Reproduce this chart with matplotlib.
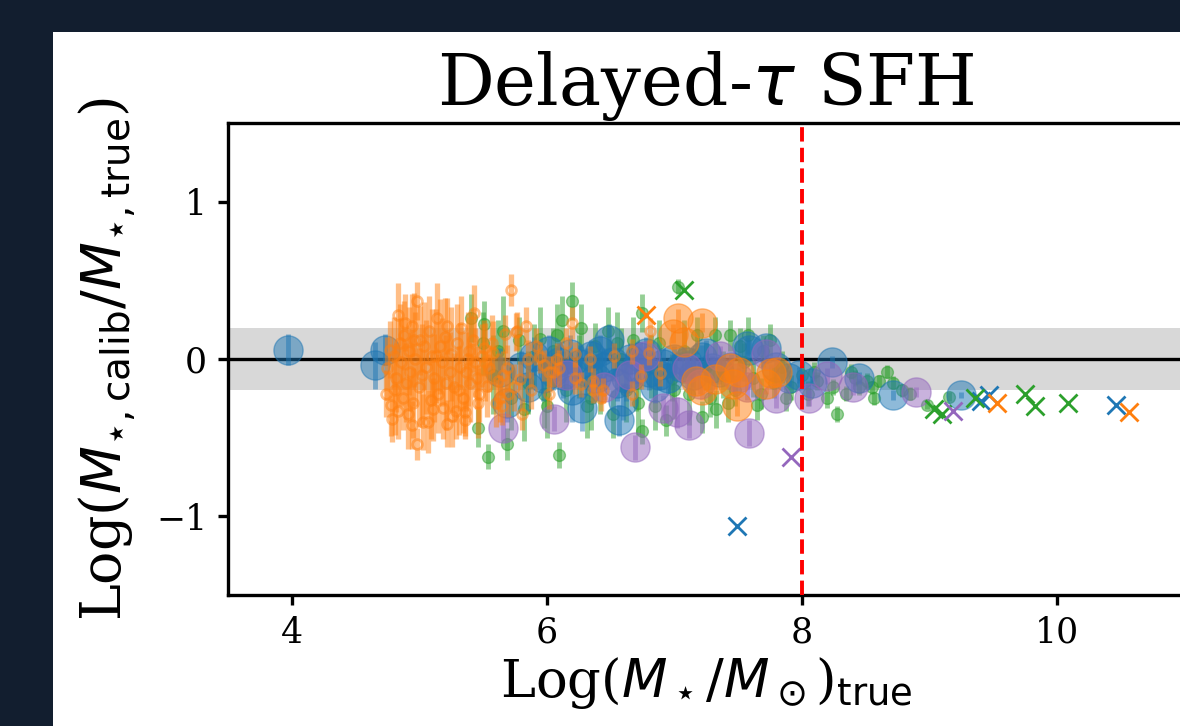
import matplotlib
matplotlib.use("Agg")
import matplotlib.pyplot as plt
from matplotlib.patches import Rectangle

plt.rcParams['font.family'] = 'serif'

# small hollow orange points
ox = [4.74, 4.75, 4.77, 4.78, 4.79, 4.80, 4.82, 4.83, 4.83, 4.85, 4.86, 4.87, 4.88, 4.89, 4.90,
      4.92, 4.93, 4.94, 4.94, 4.95, 4.97, 4.98, 4.98, 5.00, 5.01, 5.03, 5.04, 5.05, 5.07, 5.08,
      5.10, 5.11, 5.12, 5.14, 5.15, 5.16, 5.18, 5.19, 5.20, 5.22, 5.22, 5.24, 5.25, 5.27, 5.29,
      5.30, 5.32, 5.33, 5.34, 5.36, 5.36, 5.37, 5.39, 5.40, 5.42, 5.43, 5.44, 5.45, 5.47, 5.49,
      5.51, 5.53, 5.55, 5.57, 5.60, 5.63, 5.65, 5.66, 5.67, 5.69, 5.72, 5.74, 5.76, 5.77, 5.79,
      5.81, 5.84, 5.85, 5.88, 5.92, 5.95, 5.98, 6.02, 6.02, 6.05, 6.08, 6.10, 6.15, 6.20, 6.22,
      6.22, 6.27, 6.34, 6.36, 6.36, 6.43, 6.44, 6.53, 6.67, 6.67, 6.74, 6.80, 6.81, 6.89,
      4.81, 4.91, 4.96, 5.02, 5.09, 5.13, 5.21, 5.26, 5.31, 5.38, 5.46, 5.52, 5.58, 5.62, 5.70]
oy = [-0.22, -0.06, 0.06, -0.29, -0.38, 0.02, -0.12, 0.28, -0.33, 0.10, -0.02, -0.25, 0.15, 0.23, -0.15,
      0.05, -0.08, 0.21, -0.42, -0.28, 0.00, 0.37, -0.54, -0.18, 0.12, -0.40, 0.08, -0.05, -0.40, 0.18,
      0.02, -0.32, -0.12, 0.26, -0.22, 0.08, -0.02, -0.31, 0.14, 0.21, -0.41, -0.08, 0.03, -0.18, -0.33,
      0.10, -0.05, 0.20, -0.25, -0.34, -0.39, -0.08, 0.05, -0.15, 0.12, 0.29, -0.02, -0.12, -0.22, 0.02,
      0.07, -0.17, -0.06, 0.10, -0.28, -0.25, -0.30, -0.10, 0.16, -0.06, 0.44, -0.18, 0.17, 0.18, -0.13,
      -0.35, 0.21, 0.00, -0.20, 0.08, 0.01, -0.04, -0.08, -0.22, -0.08, 0.00, -0.06, 0.10, 0.23, 0.03,
      -0.12, -0.16, 0.00, -0.14, -0.20, -0.25, -0.20, 0.02, 0.05, -0.22, -0.11, 0.04, 0.18, -0.09,
      -0.20, -0.35, 0.12, -0.10, -0.26, 0.02, -0.15, -0.36, -0.20, 0.00, -0.28, -0.02, 0.04, -0.14, -0.22]
oe = [0.15, 0.20, 0.18, 0.20, 0.15, 0.25, 0.22, 0.20, 0.18, 0.25, 0.28, 0.20, 0.22, 0.18, 0.25,
      0.28, 0.25, 0.20, 0.15, 0.22, 0.30, 0.12, 0.10, 0.25, 0.22, 0.18, 0.28, 0.30, 0.20, 0.22,
      0.30, 0.20, 0.28, 0.22, 0.25, 0.30, 0.28, 0.20, 0.25, 0.18, 0.15, 0.25, 0.30, 0.22, 0.18,
      0.25, 0.28, 0.20, 0.22, 0.15, 0.12, 0.25, 0.22, 0.25, 0.20, 0.18, 0.22, 0.20, 0.18, 0.20,
      0.18, 0.20, 0.15, 0.18, 0.15, 0.15, 0.12, 0.15, 0.12, 0.15, 0.10, 0.15, 0.12, 0.12, 0.12,
      0.10, 0.12, 0.12, 0.12, 0.12, 0.10, 0.10, 0.10, 0.10, 0.10, 0.10, 0.12, 0.10, 0.10, 0.08,
      0.10, 0.08, 0.08, 0.08, 0.08, 0.08, 0.08, 0.08, 0.08, 0.08, 0.08, 0.08, 0.08, 0.08,
      0.28, 0.22, 0.30, 0.32, 0.25, 0.30, 0.30, 0.20, 0.28, 0.30, 0.22, 0.25, 0.20, 0.18, 0.15]

# small filled green points
gx = [5.41, 5.46, 5.50, 5.51, 5.54, 5.58, 5.62, 5.69, 5.72, 5.78, 5.85, 5.90, 5.95, 6.00, 6.05,
      6.08, 6.10, 6.15, 6.20, 6.25, 6.27, 6.32, 6.38, 6.42, 6.48, 6.52, 6.58, 6.62, 6.68, 6.72,
      6.75, 6.75, 6.82, 6.88, 6.94, 6.98, 7.03, 7.08, 7.12, 7.18, 7.22, 7.25, 7.32, 7.33, 7.38,
      7.44, 7.48, 7.52, 7.58, 7.62, 7.65, 7.70, 7.78, 7.85, 7.92, 8.00, 8.05, 8.12, 8.20, 8.28,
      8.35, 8.39, 8.45, 8.51, 8.57, 8.61, 8.67, 8.79, 8.98, 9.16,
      5.66, 5.82, 5.98, 6.12, 6.35, 6.55, 6.70, 6.85, 7.00, 7.15, 7.28, 7.42, 7.55, 7.68, 7.75,
      7.88, 8.10, 8.25, 8.42, 8.55, 8.72, 8.85]
gy = [0.26, -0.44, 0.10, 0.22, -0.62, -0.10, 0.05, -0.54, -0.25, 0.12, -0.15, 0.02, 0.13, -0.30, 0.05,
      0.15, -0.61, -0.20, 0.37, -0.05, 0.20, -0.30, 0.08, -0.15, 0.18, -0.35, 0.00, -0.20, 0.12, -0.28,
      0.29, -0.46, -0.05, 0.10, -0.39, -0.12, 0.46, 0.05, -0.22, 0.15, -0.37, -0.05, 0.15, -0.32, -0.10,
      0.15, -0.20, 0.08, 0.15, -0.12, -0.29, 0.05, -0.15, -0.05, -0.18, -0.10, -0.22, -0.14, -0.25, -0.35,
      -0.22, -0.08, -0.18, -0.14, -0.25, -0.14, -0.08, -0.20, -0.29, -0.24,
      0.18, -0.32, -0.22, 0.25, -0.25, 0.10, -0.15, -0.30, -0.20, -0.08, -0.25, -0.28, -0.02, -0.22, 0.12,
      -0.25, -0.08, -0.18, -0.12, -0.18, -0.15, -0.22]
ge = [0.15, 0.12, 0.20, 0.15, 0.08, 0.25, 0.20, 0.10, 0.20, 0.15, 0.20, 0.20, 0.20, 0.20, 0.15,
      0.20, 0.08, 0.20, 0.12, 0.20, 0.15, 0.20, 0.15, 0.20, 0.15, 0.15, 0.20, 0.20, 0.15, 0.20,
      0.12, 0.08, 0.20, 0.15, 0.10, 0.15, 0.05, 0.20, 0.20, 0.12, 0.10, 0.15, 0.12, 0.12, 0.15,
      0.10, 0.10, 0.12, 0.12, 0.12, 0.10, 0.10, 0.10, 0.10, 0.08, 0.08, 0.08, 0.06, 0.06, 0.05,
      0.05, 0.05, 0.05, 0.05, 0.04, 0.04, 0.04, 0.04, 0.03, 0.03,
      0.22, 0.20, 0.22, 0.15, 0.20, 0.20, 0.18, 0.15, 0.18, 0.15, 0.12, 0.12, 0.12, 0.10, 0.10,
      0.08, 0.06, 0.05, 0.05, 0.04, 0.04, 0.04]

# large blue points
bx = [3.97, 4.65, 4.73, 5.63, 5.69, 5.80, 5.90, 5.97, 6.02, 6.10, 6.13, 6.20, 6.26, 6.28, 6.35,
      6.39, 6.45, 6.49, 6.55, 6.57, 6.60, 6.65, 6.73, 6.80, 6.85, 6.91, 6.95, 7.05, 7.15, 7.22,
      7.25, 7.35, 7.45, 7.57, 7.59, 7.72, 7.80, 7.90, 7.98, 8.08, 8.24, 8.45, 8.72, 9.25,
      5.85, 6.05, 6.18, 6.32, 6.42, 6.52, 6.62, 6.70, 6.78, 6.88, 7.00, 7.10, 7.30]
by = [0.06, -0.04, 0.06, -0.08, -0.28, -0.05, 0.02, -0.12, 0.05, -0.02, -0.10, -0.20, -0.03, -0.31, 0.02,
      -0.12, -0.05, 0.12, -0.15, -0.39, -0.27, 0.00, 0.01, -0.08, -0.18, -0.03, -0.12, -0.05, -0.10, 0.01,
      0.04, -0.08, -0.05, 0.08, 0.06, 0.07, -0.05, -0.12, -0.10, -0.15, -0.02, -0.12, -0.23, -0.23,
      -0.18, -0.08, 0.03, -0.08, 0.05, -0.02, -0.12, -0.06, 0.04, -0.10, 0.00, -0.02, -0.06]
be = [0.10, 0.15, 0.10, 0.15, 0.12, 0.10, 0.12, 0.15, 0.10, 0.12, 0.15, 0.20, 0.12, 0.15, 0.10,
      0.15, 0.12, 0.10, 0.12, 0.10, 0.12, 0.10, 0.10, 0.12, 0.10, 0.10, 0.10, 0.08, 0.08, 0.08,
      0.08, 0.08, 0.08, 0.06, 0.06, 0.06, 0.06, 0.05, 0.05, 0.04, 0.04, 0.04, 0.03, 0.02,
      0.15, 0.12, 0.12, 0.15, 0.10, 0.12, 0.15, 0.10, 0.10, 0.10, 0.08, 0.08, 0.08]

# large purple points
px = [5.66, 6.06, 6.16, 6.45, 6.65, 6.69, 6.77, 6.91, 7.02, 7.10, 7.12, 7.20, 7.36, 7.50, 7.57,
      7.59, 7.72, 7.80, 8.06, 8.20, 8.40, 8.90]
py = [-0.44, -0.38, -0.10, -0.18, -0.10, -0.56, 0.02, -0.31, -0.34, -0.06, -0.42, -0.16, 0.02, -0.12, -0.18,
      -0.47, 0.03, -0.25, -0.25, -0.11, -0.18, -0.21]
pe = [0.08, 0.08, 0.08, 0.08, 0.08, 0.08, 0.06, 0.08, 0.10, 0.06, 0.08, 0.06, 0.06, 0.06, 0.08,
      0.08, 0.06, 0.06, 0.05, 0.05, 0.05, 0.03]

# large orange points
lx = [6.99, 7.03, 7.08, 7.17, 7.22, 7.22, 7.32, 7.44, 7.46, 7.49, 7.51, 7.72, 7.76, 7.81]
ly = [0.16, 0.26, 0.11, -0.14, 0.23, -0.20, -0.13, -0.06, -0.16, -0.30, -0.08, -0.16, -0.09, -0.08]
le = [0.06, 0.06, 0.06, 0.06, 0.06, 0.06, 0.06, 0.06, 0.06, 0.06, 0.06, 0.06, 0.06, 0.06]

# crosses
bxx, bxy = [7.49, 9.41, 9.47, 10.47], [-1.06, -0.27, -0.23, -0.29]
oxx, oxy = [6.78, 9.53, 10.57], [0.28, -0.28, -0.34]
gxx, gxy = [7.08, 9.04, 9.10, 9.36, 9.75, 9.83, 10.09], [0.44, -0.32, -0.35, -0.25, -0.22, -0.30, -0.28]
pxx, pxy = [7.92, 9.19], [-0.62, -0.33]

W, H = 1180, 726
fig = plt.figure(figsize=(W / 100, H / 100), dpi=100)
fig.patch.set_facecolor('#121e2f')
fig.patches.append(Rectangle((53 / W, 0), 1, (H - 32) / H, transform=fig.transFigure,
                             facecolor='white', edgecolor='none', zorder=-5))

ax = fig.add_axes([228 / W, (H - 595) / H, 956 / W, 472 / H])
ax.axhspan(-0.2, 0.2, color='gray', alpha=0.3, lw=0, zorder=0)
ax.axhline(0, color='k', lw=2.4, zorder=1)

ax.errorbar(gx, gy, yerr=ge, fmt='o', color='tab:green', ms=8.5, elinewidth=3.5, alpha=0.5, zorder=2)
ax.errorbar(bx, by, yerr=be, fmt='o', color='tab:blue', ms=21, elinewidth=3.5, alpha=0.5, zorder=3)
ax.errorbar(px, py, yerr=pe, fmt='o', color='tab:purple', ms=21, elinewidth=3.5, alpha=0.5, zorder=3)
ax.errorbar(lx, ly, yerr=le, fmt='o', color='tab:orange', ms=21, elinewidth=3.5, alpha=0.5, zorder=3)
ax.errorbar(ox, oy, yerr=oe, fmt='o', color='tab:orange', mfc='none', ms=7, mew=2,
            elinewidth=3.8, alpha=0.5, zorder=4)

ax.plot(bxx, bxy, 'x', color='tab:blue', ms=13, mew=2, zorder=5)
ax.plot(oxx, oxy, 'x', color='tab:orange', ms=13, mew=2, zorder=5)
ax.plot(gxx, gxy, 'x', color='tab:green', ms=13, mew=2, zorder=5)
ax.plot(pxx, pxy, 'x', color='tab:purple', ms=13, mew=2, zorder=5)

ax.axvline(8, color='red', ls='--', lw=2.8, zorder=6)

ax.set_xlim(3.5, 11)
ax.set_ylim(-1.5, 1.5)
ax.set_xticks([4, 6, 8, 10])
ax.set_yticks([-1, 0, 1])
ax.tick_params(labelsize=25, width=2.4, length=7, pad=8)
for s in ax.spines.values():
    s.set_linewidth(2.4)

ax.set_title(r'Delayed-$\tau$ SFH', fontsize=51, pad=10)
ax.set_xlabel(r'Log($M_\star/M_\odot$)$_{\rm true}$', fontsize=38, labelpad=4)
ax.set_ylabel(r'Log($M_{\star,\rm calib}/M_{\star,\rm true}$)', fontsize=40, labelpad=13)

fig.savefig('out.png', dpi=100, facecolor=fig.get_facecolor())
